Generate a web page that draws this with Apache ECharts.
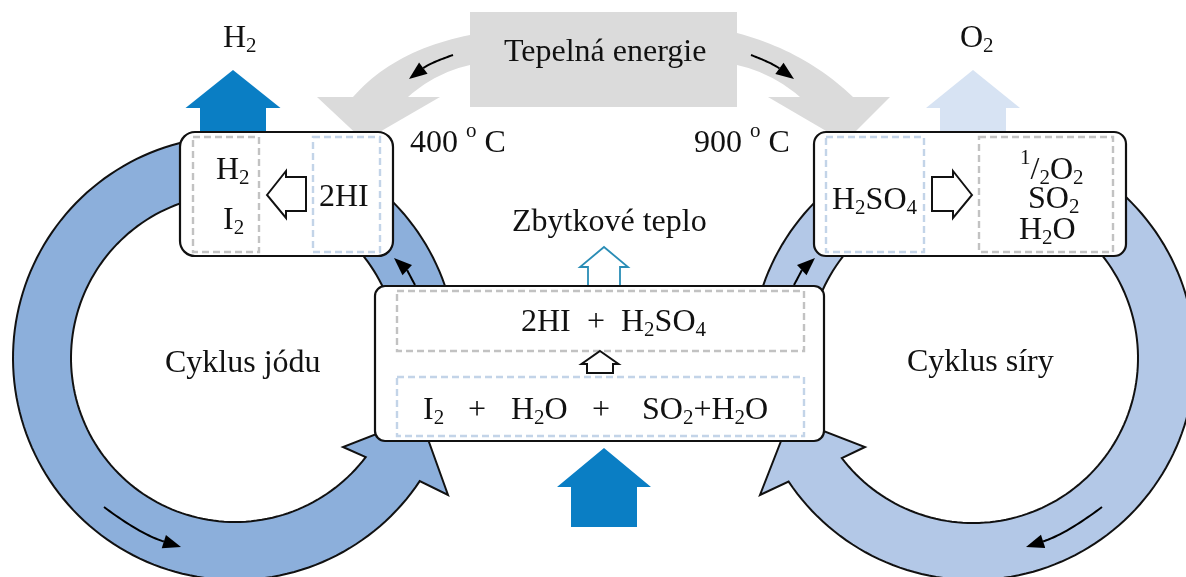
<!DOCTYPE html>
<html>
<head>
<meta charset="utf-8">
<style>html,body{margin:0;padding:0;background:#fff}#c{width:1186px;height:577px}</style>
<script src="https://cdn.jsdelivr.net/npm/echarts@6/dist/echarts.min.js"></script>
</head>
<body>
<div id="c"></div>
<script>
// ---- diagram text ( _x = subscript, ^x = superscript ) ----
const outputs = ['H_2', 'O_2'];
const heatSource = ['Tepelná energie'];
const temperatures = ['400 ^o C', '900 ^o C'];
const wasteHeat = ['Zbytkové teplo'];
const cycles = ['Cyklus jódu', 'Cyklus síry'];
const iodineDecomposition = ['H_2', 'I_2', '2HI'];
const sulfurDecomposition = ['H_2SO_4', '^1/_2O_2', 'SO_2', 'H_2O'];
const bunsenTerms = ['2HI', '+', 'H_2SO_4', 'I_2', '+', 'H_2O', '+', 'SO_2+H_2O'];

// ---- layout ----
const FONT = '"Liberation Serif","Times New Roman",serif';
const SIZE = 32, SUB = 21;
const INK = '#111111';
const C = {ringL:'#8CAFDB', ringR:'#B3C8E7', deep:'#0A7EC4', pale:'#D7E3F3', heat:'#DBDBDB', dashG:'#C2C2C2', dashB:'#C3D4E8', hollow:'#2A8DB6'};

const ctx = document.createElement('canvas').getContext('2d');
function measure(t, s){ ctx.font = s + 'px ' + FONT; return ctx.measureText(t).width; }

const els = [];
function poly(points, fill, stroke, lw){
  els.push({type:'polygon', shape:{points}, style:{fill, stroke:stroke||null, lineWidth:lw||0, lineJoin:'miter'}});
}
function arc(cx, cy, r, x0, y0, x1, y1, cw, n){
  let a0 = Math.atan2(y0-cy, x0-cx), a1 = Math.atan2(y1-cy, x1-cx);
  if (cw) { while (a1 < a0) a1 += Math.PI*2; } else { while (a1 > a0) a1 -= Math.PI*2; }
  const p = [];
  for (let i=0;i<=n;i++){ const a = a0+(a1-a0)*i/n; p.push([cx+r*Math.cos(a), cy+r*Math.sin(a)]); }
  return p;
}
function quad(p0, c, p1, n){
  const p = [];
  for (let i=0;i<=n;i++){ const t=i/n, u=1-t; p.push([u*u*p0[0]+2*u*t*c[0]+t*t*p1[0], u*u*p0[1]+2*u*t*c[1]+t*t*p1[1]]); }
  return p;
}
function ring(cx, cy, r, R, inNotch, inEnd, outEnd, outNotch, tipOut, apex, tipIn, cw, fill){
  const pts = arc(cx,cy,r,inNotch[0],inNotch[1],inEnd[0],inEnd[1],cw,160)
    .concat(arc(cx,cy,R,outEnd[0],outEnd[1],outNotch[0],outNotch[1],!cw,160))
    .concat([tipOut, apex, tipIn]);
  poly(pts, fill, INK, 2);
}
function upArrow(cx, tip, wingY, wingHalf, shaftHalf, bottom, fill, stroke, lw){
  poly([[cx,tip],[cx+wingHalf,wingY],[cx+shaftHalf,wingY],[cx+shaftHalf,bottom],[cx-shaftHalf,bottom],[cx-shaftHalf,wingY],[cx-wingHalf,wingY]], fill, stroke, lw);
}
function sideArrow(tipX, baseX, endX, cy, fill){
  poly([[tipX,cy],[baseX,cy-24],[baseX,cy-18],[endX,cy-18],[endX,cy+16],[baseX,cy+16],[baseX,cy+23]], fill, INK, 2);
}
function curveArrow(tail, c, tip){
  const a = Math.atan2(tip[1]-c[1], tip[0]-c[0]);
  const L = 18, W = 7;
  const bx = tip[0]-L*Math.cos(a), by = tip[1]-L*Math.sin(a);
  els.push({type:'polyline', shape:{points:quad(tail, c, [bx,by], 24)}, style:{stroke:'#000', lineWidth:2, fill:null}});
  poly([tip,[bx-W*Math.sin(a),by+W*Math.cos(a)],[bx+W*Math.sin(a),by-W*Math.cos(a)]], '#000');
}
function box(x0, y0, x1, y1, r){
  els.push({type:'rect', shape:{x:x0,y:y0,width:x1-x0,height:y1-y0,r}, style:{fill:'#fff', stroke:INK, lineWidth:2.2}});
}
function dash(x0, y0, x1, y1, col){
  els.push({type:'rect', shape:{x:x0,y:y0,width:x1-x0,height:y1-y0}, style:{fill:null, stroke:col, lineWidth:2.4, lineDash:[7,4]}});
}
function runs(src){
  const out = []; let i = 0, buf = '';
  while (i < src.length){
    const ch = src[i];
    if ((ch === '_' || ch === '^') && i+1 < src.length){
      if (buf) { out.push({t:buf, k:0}); buf=''; }
      out.push({t:src[i+1], k: ch === '_' ? 1 : -1}); i += 2;
    } else { buf += ch; i++; }
  }
  if (buf) out.push({t:buf, k:0});
  return out;
}
function label(src, x, base, size){
  size = size || SIZE;
  runs(src).forEach(r => {
    const s = r.k ? SUB : size;
    const b = r.k === 1 ? base+4.5 : r.k === -1 ? base-15 : base;
    els.push({type:'text', x, y:b-0.26*s, style:{text:r.t, font:s+'px '+FONT, fill:'#111', align:'left', verticalAlign:'middle'}});
    x += measure(r.t, s);
  });
}

// ---- heat arrows (behind boxes) ----
poly(quad([470,35],[394,50],[353,97],24).concat([[317,97],[364,141],[440,97],[408,97]], quad([408,97],[435,73],[470,65],24)), C.heat);
poly(quad([737,33],[805,51],[853,97],24).concat([[890,97],[845,142],[768,97],[800,97]], quad([800,97],[772,73],[737,65],24)), C.heat);
els.push({type:'rect', shape:{x:470,y:12,width:267,height:95}, style:{fill:C.heat}});

// ---- output arrows ----
upArrow(233, 70, 108, 47.5, 33, 134, C.deep);
upArrow(973, 70, 108, 47, 33, 134, C.pale);
upArrow(604, 448, 487, 47, 33, 527, C.deep);
upArrow(604, 247, 267, 24, 16, 287, '#fff', C.hollow, 1.8);

// ---- cycle rings ----
ring(235,358,164,222,[367,458],[388,300],[449,300],[421,482],[448,495],[420,417],[343,447],true,C.ringL);
ring(973,358,165,222,[842,458],[818.5,300],[759,300],[788,482],[760,495],[790,418],[865,447],false,C.ringR);

// ---- small direction arrows ----
curveArrow([453,55],[430,63],[409,79]);
curveArrow([751,55],[772,63],[794,79]);
curveArrow([104,507],[140,534],[181,547]);
curveArrow([1102,507],[1066,534],[1026,547]);
curveArrow([415,285],[407,270],[394,258]);
curveArrow([794,285],[802,270],[815,258]);

// ---- process boxes ----
box(180,132,393,256,15);
box(814,132,1126,256,12);
box(375,286,824,441,10);
dash(193,137,259,252,C.dashG);
dash(313,137,380,252,C.dashB);
dash(826,137,924,252,C.dashB);
dash(979,137,1113,252,C.dashG);
dash(397,291,804,351,C.dashG);
dash(397,377,804,436,C.dashB);
upArrow(600, 351, 364, 18.5, 13, 373, '#fff', INK, 2);
sideArrow(267, 286, 306, 195, '#fff');
sideArrow(972, 953, 932, 195, '#fff');

// ---- text ----
label(outputs[0], 223, 47);
label(outputs[1], 960, 47);
label(heatSource[0], 504, 61);
label(temperatures[0], 410, 152);
label(temperatures[1], 694, 152);
label(wasteHeat[0], 512, 231);
label(cycles[0], 165, 372);
label(cycles[1], 907, 371);
label(iodineDecomposition[0], 216, 179);
label(iodineDecomposition[1], 223, 229);
label(iodineDecomposition[2], 319, 206);
label(sulfurDecomposition[0], 832, 209);
label(sulfurDecomposition[1], 1020, 179);
label(sulfurDecomposition[2], 1028, 208);
label(sulfurDecomposition[3], 1019, 239);
[521, 587, 621].forEach((x,i) => label(bunsenTerms[i], x, 331));
[423, 468, 511, 592, 642].forEach((x,i) => label(bunsenTerms[i+3], x, 419));

const chart = echarts.init(document.getElementById('c'), null, {renderer:'canvas', width:1186, height:577});
chart.setOption({
  animation:false,
  backgroundColor:'#fff',
  graphic:{elements:els.map((e,i)=>Object.assign({silent:true, z:i+1}, e))}
});
</script>
</body>
</html>
